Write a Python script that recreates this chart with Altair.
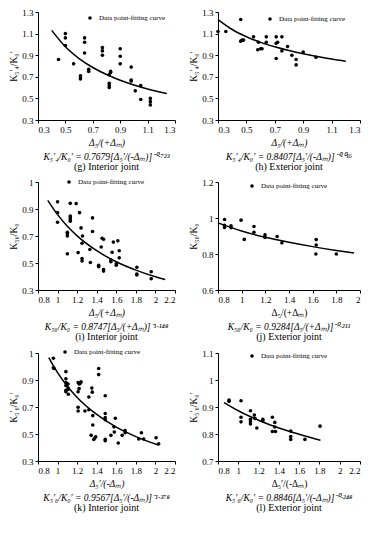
import altair as alt
import pandas as pd

SERIF = "Liberation Serif"

# ---------------- (g) interior joint ----------------
g_x = [0.45, 0.50, 0.50, 0.50, 0.56, 0.61, 0.61, 0.61, 0.64, 0.64, 0.64, 0.67, 0.67,
       0.77, 0.77, 0.77, 0.82, 0.82, 0.82, 0.82, 0.83, 0.83, 0.90, 0.90, 0.90,
       0.98, 0.98, 0.98, 1.01, 1.05, 1.05, 1.12, 1.12, 1.12]
g_y = [0.86, 1.10, 1.06, 0.99, 0.82, 0.71, 0.69, 0.68, 1.06, 1.02, 0.92, 0.77, 0.75,
       0.97, 0.94, 0.90, 0.72, 0.64, 0.62, 0.60, 0.75, 0.74, 0.96, 0.89, 0.82,
       0.79, 0.67, 0.66, 0.57, 0.62, 0.49, 0.50, 0.47, 0.44]
g_cx = [0.40, 0.50, 0.60, 0.70, 0.80, 0.90, 1.00, 1.10, 1.24]
g_cy = [1.13, 0.978, 0.869, 0.786, 0.721, 0.668, 0.624, 0.587, 0.545]

# ---------------- (h) exterior joint ----------------
h_x = [0.30, 0.355, 0.46, 0.46, 0.47, 0.48, 0.55, 0.585, 0.58, 0.60, 0.61, 0.64, 0.64,
       0.71, 0.71, 0.72, 0.71, 0.75, 0.75, 0.79, 0.82, 0.85, 0.85, 0.90, 0.99]
h_y = [1.12, 1.12, 1.23, 1.03, 1.04, 1.04, 1.07, 1.02, 0.95, 0.96, 0.96, 1.07, 1.02,
       1.07, 1.01, 1.02, 0.87, 1.07, 0.94, 0.98, 0.90, 0.86, 0.81, 0.93, 0.88]
h_cx = [0.30, 0.40, 0.50, 0.60, 0.70, 0.80, 0.90, 1.00, 1.10, 1.20]
h_cy = [1.23, 1.138, 1.071, 1.019, 0.978, 0.943, 0.913, 0.888, 0.865, 0.845]

# ---------------- (i) interior joint ----------------
i_x = [1.00, 1.00, 1.00, 1.10, 1.10, 1.10, 1.10, 1.13, 1.13, 1.13, 1.13, 1.13, 1.19,
       1.21, 1.225, 1.24, 1.255, 1.25, 1.25, 1.25, 1.33, 1.335, 1.357, 1.357, 1.42,
       1.42, 1.446, 1.455, 1.47, 1.47, 1.47, 1.545, 1.545, 1.557, 1.57, 1.60, 1.60,
       1.616, 1.63, 1.63, 1.81, 1.81, 1.81, 1.957, 1.957]
i_y = [0.953, 0.873, 0.802, 0.728, 0.715, 0.70, 0.568, 0.942, 0.848, 0.834, 0.82, 0.81,
       0.94, 0.577, 0.873, 0.76, 0.70, 0.646, 0.533, 0.515, 0.60, 0.504, 0.834, 0.733,
       0.483, 0.472, 0.618, 0.683, 0.676, 0.451, 0.44, 0.522, 0.51, 0.579, 0.655,
       0.494, 0.483, 0.664, 0.591, 0.538, 0.469, 0.419, 0.412, 0.435, 0.384]
i_cx = [0.90, 1.00, 1.10, 1.20, 1.40, 1.60, 1.80, 2.00, 2.10]
i_cy = [0.964, 0.858, 0.772, 0.701, 0.591, 0.509, 0.447, 0.398, 0.377]

# ---------------- (j) exterior joint ----------------
j_x = [0.855, 0.855, 0.855, 0.91, 0.91, 0.995, 1.022, 1.104, 1.104, 1.197, 1.197,
       1.30, 1.34, 1.63, 1.63, 1.627, 1.80]
j_y = [0.992, 0.96, 0.947, 0.956, 0.946, 0.988, 0.881, 0.953, 0.921, 0.906, 0.892,
       0.897, 0.862, 0.88, 0.85, 0.80, 0.80]
j_cx = [0.80, 1.00, 1.20, 1.40, 1.60, 1.80, 1.95]
j_cy = [0.973, 0.928, 0.893, 0.865, 0.841, 0.820, 0.806]

# ---------------- (k) interior joint ----------------
k_x = [0.957, 0.957, 0.963, 1.085, 1.085, 1.085, 1.085, 1.085, 1.085, 1.107, 1.107,
       1.107, 1.11, 1.21, 1.22, 1.22, 1.21, 1.24, 1.23, 1.21, 1.21, 1.28, 1.32, 1.32,
       1.343, 1.35, 1.355, 1.36, 1.36, 1.37, 1.38, 1.39, 1.42, 1.42, 1.487, 1.487,
       1.487, 1.487, 1.487, 1.487, 1.545, 1.576, 1.59, 1.58, 1.62, 1.66, 1.69, 1.69,
       1.83, 1.857, 1.88, 2.007, 2.033]
k_y = [1.061, 0.99, 0.985, 0.962, 0.909, 0.882, 0.859, 0.824, 0.813, 0.84, 0.87, 0.83,
       0.794, 0.882, 0.87, 0.836, 0.813, 0.886, 0.875, 0.698, 0.67, 0.67, 0.774, 0.68,
       0.49, 0.84, 0.81, 0.636, 0.567, 0.46, 0.47, 0.48, 0.985, 0.94, 0.783, 0.652,
       0.622, 0.606, 0.46, 0.45, 0.49, 0.553, 0.617, 0.514, 0.433, 0.49, 0.509, 0.525,
       0.463, 0.509, 0.463, 0.472, 0.427]
k_cx = [0.91, 1.00, 1.10, 1.20, 1.40, 1.60, 1.80, 2.03]
k_cy = [1.065, 0.954, 0.854, 0.771, 0.645, 0.551, 0.481, 0.418]

# ---------------- (l) exterior joint ----------------
l_x = [0.909, 0.909, 1.027, 1.027, 1.027, 1.12, 1.12, 1.12, 1.12, 1.158, 1.165, 1.183,
       1.242, 1.242, 1.336, 1.336, 1.36, 1.36, 1.367, 1.517, 1.517, 1.517, 1.657, 1.806]
l_y = [0.926, 0.921, 0.923, 0.862, 0.845, 0.886, 0.854, 0.845, 0.837, 0.87, 0.857,
       0.822, 0.854, 0.849, 0.862, 0.809, 0.843, 0.826, 0.809, 0.811, 0.791, 0.78,
       0.78, 0.829]
l_cx = [0.86, 1.00, 1.20, 1.40, 1.60, 1.81]
l_cy = [0.916, 0.886, 0.851, 0.822, 0.799, 0.777]

LEGEND_LABEL = "Data point-fitting curve"


def panel(px, py, cx, cy, xdom, ydom, xticks, yticks, xtitle, ytitle,
          formula, caption, w, h, leg, xitalic=True):
    pts = pd.DataFrame({"x": px, "y": py})
    crv = pd.DataFrame({"x": cx, "y": cy})
    xs = alt.Scale(domain=xdom, nice=False, zero=False)
    ys = alt.Scale(domain=ydom, nice=False, zero=False)
    xax = alt.Axis(values=xticks, format="~g", title=xtitle,
                   titleFontStyle="italic" if xitalic else "normal")
    yax = alt.Axis(values=yticks, format="~g", title=ytitle)
    X = alt.X("x:Q", scale=xs, axis=xax)
    Y = alt.Y("y:Q", scale=ys, axis=yax)
    p = alt.Chart(pts).mark_circle(size=13, color="black", opacity=1).encode(x=X, y=Y)
    c = alt.Chart(crv).mark_line(color="black", strokeWidth=1.5,
                                 interpolate="monotone").encode(x=X, y=Y)
    ldf = pd.DataFrame({"label": [LEGEND_LABEL]})
    lm = alt.Chart(ldf).mark_circle(size=13, color="black", opacity=1).encode(
        x=alt.value(leg[0]), y=alt.value(leg[1]))
    lt = alt.Chart(ldf).mark_text(align="left", baseline="middle", font=SERIF,
                                  fontSize=7, color="black").encode(
        x=alt.value(leg[0] + 9), y=alt.value(leg[1]), text="label:N")
    return alt.layer(c, p, lm, lt).properties(
        width=w, height=h,
        title=alt.TitleParams(
            text=formula, subtitle=caption, orient="bottom", anchor="middle",
            font=SERIF, fontSize=9.5, fontStyle="italic", fontWeight="normal",
            color="black", subtitleFont=SERIF, subtitleFontSize=10,
            subtitleColor="black", subtitlePadding=1, offset=5))


W1, W2, H = 137, 142, 108

pg = panel(g_x, g_y, g_cx, g_cy, [0.3, 1.3], [0.3, 1.3],
           [0.3, 0.5, 0.7, 0.9, 1.1, 1.3], [0.3, 0.5, 0.7, 0.9, 1.1, 1.3],
           "Δ₅/(+Δₘ)", "K₅′₄/K₀′",
           "K₅′₄/K₀′ = 0.7679[Δ₅′/(-Δₘ)]⁻⁰·⁷²³", "(g) Interior joint",
           W1, H, (52, 6))
ph = panel(h_x, h_y, h_cx, h_cy, [0.3, 1.3], [0.3, 1.3],
           [0.3, 0.5, 0.7, 0.9, 1.1, 1.3], [0.3, 0.5, 0.7, 0.9, 1.1, 1.3],
           "Δ₅/(+Δₘ)", "K₅′₄/K₀′",
           "K₅′₄/K₀′ = 0.8407[Δ₅′/(-Δₘ)]⁻⁰·⁰¹⁶", "(h) Exterior joint",
           W2, H, (52, 7))
pi = panel(i_x, i_y, i_cx, i_cy, [0.8, 2.2], [0.3, 1.1],
           [0.8, 1.0, 1.2, 1.4, 1.6, 1.8, 2.0, 2.2], [0.3, 0.5, 0.7, 0.9, 1.1],
           "Δ₅/(+Δₘ)", "K₅₆/K₀",
           "K₅₆/K₀ = 0.8747[Δ₅/(+Δₘ)]⁻¹·¹⁴⁸", "(i) Interior joint",
           W1, H, (31, 0))
pj = panel(j_x, j_y, j_cx, j_cy, [0.8, 2.0], [0.6, 1.2],
           [0.8, 1.0, 1.2, 1.4, 1.6, 1.8, 2.0], [0.6, 0.8, 1.0, 1.2],
           "Δ₅/(+Δₘ)", "K₅₆/K₀",
           "K₅₆/K₀ = 0.9284[Δ₅/(+Δₘ)]⁻⁰·²¹¹", "(j) Exterior joint",
           W2, H, (34, 4), xitalic=False)
pk = panel(k_x, k_y, k_cx, k_cy, [0.8, 2.2], [0.3, 1.1],
           [0.8, 1.0, 1.2, 1.4, 1.6, 1.8, 2.0, 2.2], [0.3, 0.5, 0.7, 0.9, 1.1],
           "Δ₅′/(-Δₘ)", "K₅′₆/K₀′",
           "K₅′₆/K₀′ = 0.9567[Δ₅′/(-Δₘ)]⁻¹·³⁷⁸", "(k) Interior joint",
           W1, H, (27, -1))
pl = panel(l_x, l_y, l_cx, l_cy, [0.8, 2.2], [0.7, 1.1],
           [0.8, 1.0, 1.2, 1.4, 1.6, 1.8, 2.0, 2.2], [0.7, 0.8, 0.9, 1.0, 1.1],
           "Δ₅′/(-Δₘ)", "K₅′₆/K₀′",
           "K₅′₆/K₀′ = 0.8846[Δ₅′/(-Δₘ)]⁻⁰·²⁴⁸", "(l) Exterior joint",
           W2, H, (34, 3), xitalic=False)

chart = alt.vconcat(
    alt.hconcat(pg, ph, spacing=12),
    alt.hconcat(pi, pj, spacing=12),
    alt.hconcat(pk, pl, spacing=12),
    spacing=6,
).properties(padding=0, background="white").configure_view(
    stroke=None
).configure_axis(
    grid=False, domainColor="black", domainWidth=1, tickColor="black",
    tickSize=3, labelColor="black", labelFont=SERIF, labelFontSize=9,
    labelPadding=2, titleFont=SERIF, titleFontSize=9.5, titleFontWeight="normal",
    titleColor="black", titlePadding=3,
)

chart.save("out.html", embed_options={"renderer": "svg", "actions": False})
